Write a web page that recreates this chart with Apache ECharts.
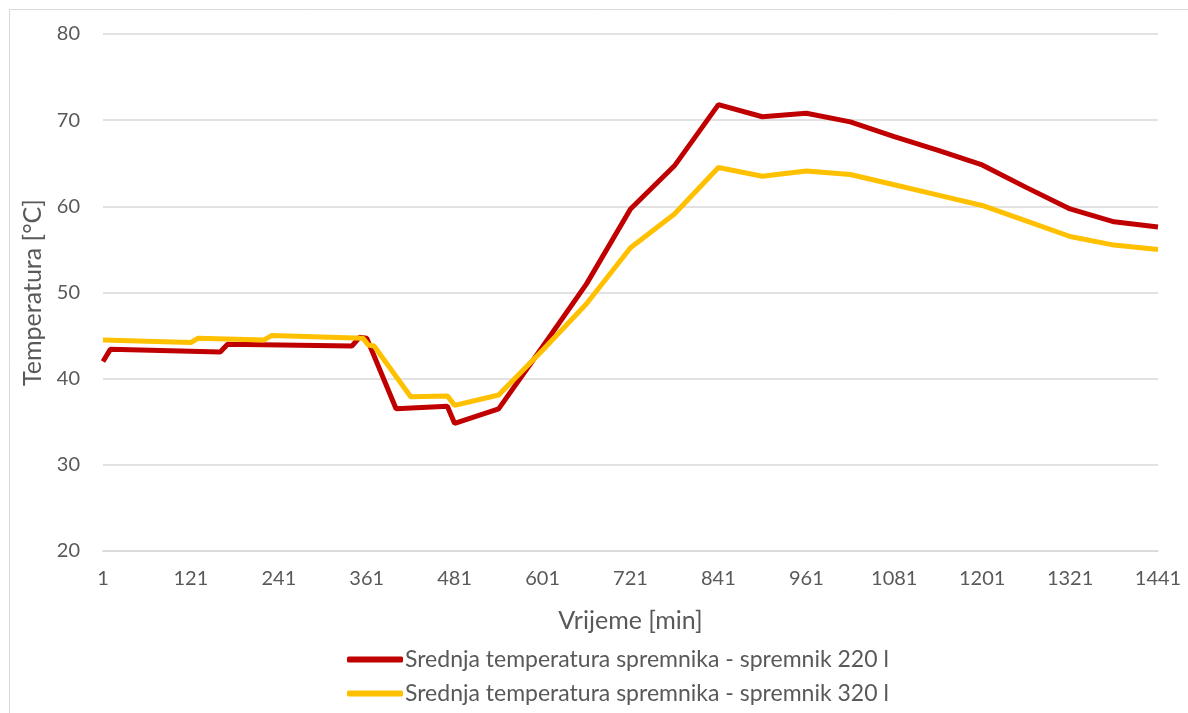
<!DOCTYPE html>
<html>
<head>
<meta charset="utf-8">
<script src="https://cdn.jsdelivr.net/npm/echarts@6/dist/echarts.min.js"></script>
<style>
  html, body { margin: 0; padding: 0; background: #fff; }
  #chart { width: 1188px; height: 713px; }
</style>
</head>
<body>
<div id="chart"></div>
<script>
// minute of the day and mean tank temperature [°C]
const min220 = [1, 11, 161, 171, 341, 351, 361, 401, 471, 481, 541, 601, 661, 721, 781, 841, 901, 961, 1021, 1081, 1141, 1201, 1261, 1321, 1381, 1441]
const temp220 = [42.0, 43.4, 43.1, 44.0, 43.8, 44.8, 44.7, 36.5, 36.8, 34.8, 36.5, 43.7, 51.0, 59.7, 64.7, 71.8, 70.4, 70.8, 69.8, 68.1, 66.5, 64.8, 62.2, 59.7, 58.2, 57.6]

const min320 = [1, 121, 131, 221, 231, 356, 363, 371, 421, 471, 481, 541, 601, 661, 721, 781, 841, 901, 961, 1021, 1081, 1141, 1201, 1261, 1321, 1381, 1441]
const temp320 = [44.5, 44.2, 44.7, 44.5, 45.0, 44.7, 43.9, 43.8, 37.9, 38.0, 36.9, 38.1, 43.3, 48.7, 55.2, 59.1, 64.5, 63.5, 64.1, 63.7, 62.5, 61.3, 60.1, 58.3, 56.5, 55.5, 55.0]

const seriesNames = [
  'Srednja temperatura spremnika - spremnik 220 l',
  'Srednja temperatura spremnika - spremnik 320 l'
]

// axis runs 0..1440 internally so ticks land on 1, 121, ... 1441
const toPoints = (mins, temps) => mins.map((m, i) => [m - 1, temps[i]])

const chart = echarts.init(document.getElementById('chart'))
const font = 'Lato, "Open Sans", sans-serif'

chart.setOption({
  animation: false,
  textStyle: { fontFamily: font },
  graphic: [{
    type: 'rect',
    shape: { x: 9.5, y: 9.5, width: 1200, height: 720 },
    style: { fill: 'none', stroke: '#d9d9d9', lineWidth: 1 },
    silent: true
  }],
  grid: { left: 103, right: 30, top: 34, bottom: 162, containLabel: false },
  xAxis: {
    type: 'value',
    min: 0,
    max: 1440,
    interval: 120,
    name: 'Vrijeme [min]',
    nameLocation: 'middle',
    nameGap: 57,
    nameTextStyle: { fontSize: 25, color: '#595959', fontFamily: font },
    axisLine: { lineStyle: { color: '#d9d9d9', width: 1.5 } },
    axisTick: { show: false },
    splitLine: { show: false },
    axisLabel: {
      fontSize: 20, color: '#595959', margin: 18, fontFamily: font,
      formatter: v => String(v + 1)
    }
  },
  yAxis: {
    type: 'value',
    min: 20,
    max: 80,
    interval: 10,
    name: 'Temperatura [°C]',
    nameLocation: 'middle',
    nameGap: 52,
    nameTextStyle: { fontSize: 25, color: '#595959', fontFamily: font },
    axisLine: { show: false },
    axisTick: { show: false },
    splitLine: { lineStyle: { color: '#d9d9d9', width: 1.5 } },
    axisLabel: { fontSize: 20, color: '#595959', margin: 23, fontFamily: font }
  },
  legend: {
    orient: 'vertical',
    left: 342,
    top: 643,
    icon: 'roundRect',
    itemWidth: 56,
    itemHeight: 6,
    itemGap: 11,
    textStyle: { fontSize: 23, color: '#595959', fontFamily: font, padding: [0, 0, 0, -3] },
    data: seriesNames
  },
  series: [
    {
      name: seriesNames[0],
      type: 'line',
      data: toPoints(min220, temp220),
      showSymbol: false,
      lineStyle: { color: '#c00000', width: 5 },
      itemStyle: { color: '#c00000' }
    },
    {
      name: seriesNames[1],
      type: 'line',
      data: toPoints(min320, temp320),
      showSymbol: false,
      lineStyle: { color: '#ffc000', width: 5 },
      itemStyle: { color: '#ffc000' }
    }
  ]
})

window.addEventListener('resize', () => {
  chart.resize()
})
</script>
</body>
</html>
